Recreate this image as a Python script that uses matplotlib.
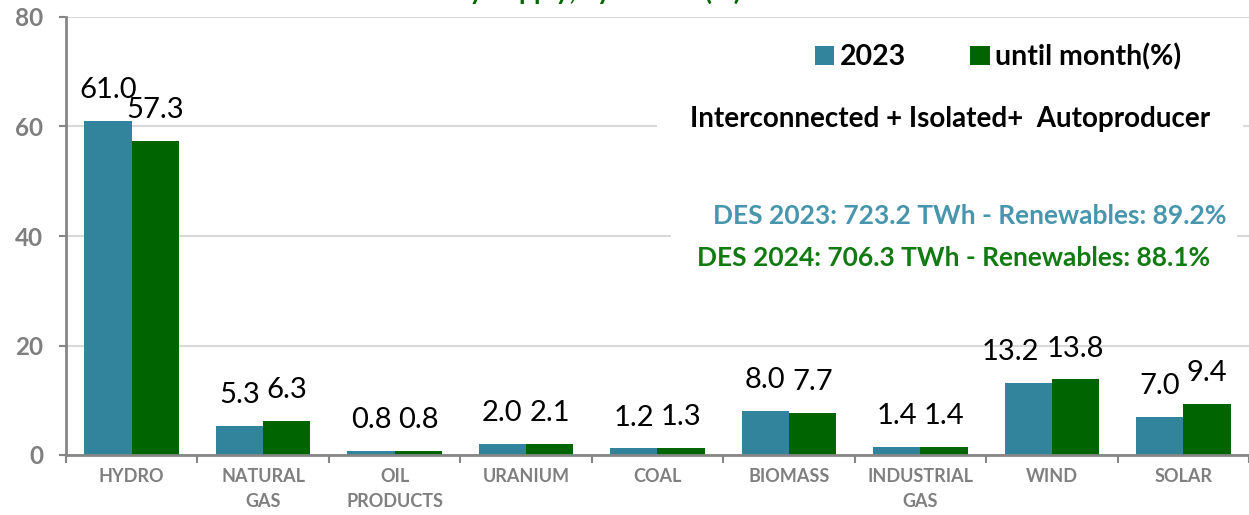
"""
DOMESTIC ELECTRICITY SUPPLY BY SOURCE (%)
2023 vs year-to-date
"""
import matplotlib
matplotlib.use("Agg")
import matplotlib.pyplot as plt
import numpy as np

plt.rcParams['font.family'] = ['Lato', 'DejaVu Sans']

# Data
sources = ['HYDRO', 'NATURAL\nGAS', 'OIL\nPRODUCTS', 'URANIUM', 'COAL',
           'BIOMASS', 'INDUSTRIAL\nGAS', 'WIND', 'SOLAR']
share_2023 = [61.0, 5.3, 0.8, 2.0, 1.2, 8.0, 1.4, 13.2, 7.0]
share_ytd = [57.3, 6.3, 0.8, 2.1, 1.3, 7.7, 1.4, 13.8, 9.4]
series_names = ['2023', 'until month(%)']
y_ticks = [0, 20, 40, 60, 80]

title = 'Domestic Electricity Supply, by Source (%)'
subtitle = 'Interconnected + Isolated+  Autoproducer'
des_2023 = 'DES 2023: 723.2 TWh - Renewables: 89.2%'
des_2024 = 'DES 2024: 706.3 TWh - Renewables: 88.1%'

BLUE = '#31849B'
GREEN = '#006400'
AXIS_GRAY = '#868686'
TEXT_GRAY = '#7F7F7F'


def main():
    fig = plt.figure(figsize=(12.49, 5.15), dpi=100)
    ax = fig.add_axes([66 / 1249, 1 - 455 / 515, 1 - 66 / 1249, (455 - 17) / 515])
    ax.patch.set_alpha(0)

    x = np.arange(len(sources))
    width = 0.36
    bars_a = ax.bar(x - width / 2, share_2023, width, color=BLUE, label=series_names[0], zorder=2)
    bars_b = ax.bar(x + width / 2, share_ytd, width, color=GREEN, label=series_names[1], zorder=2)

    # data labels (WIND 2023 label nudged left so it doesn't collide, as in the original)
    nudge = {(0, 7): -13}
    for s, (bars, vals) in enumerate([(bars_a, share_2023), (bars_b, share_ytd)]):
        for i, (b, v) in enumerate(zip(bars, vals)):
            ax.annotate(f"{v:.1f}", (b.get_x() + b.get_width() / 2, v),
                        xytext=(nudge.get((s, i), 0), 16.5), textcoords='offset points',
                        ha='center', va='baseline', fontsize=21, color='black', zorder=4)

    ax.set_xlim(-0.5, len(sources) - 0.5)
    ax.set_ylim(0, 80)
    ax.set_yticks(y_ticks)
    ax.tick_params(axis='y', length=5, width=1.5, color=AXIS_GRAY, pad=11.5,
                   labelsize=17.5, labelcolor=TEXT_GRAY)
    for lbl in ax.get_yticklabels():
        lbl.set_fontweight('bold')

    # category boundaries as major ticks, names on minor ticks
    ax.set_xticks(np.arange(-0.5, len(sources), 1.0))
    ax.set_xticklabels([])
    ax.set_xticks(x, minor=True)
    ax.set_xticklabels(sources, minor=True, fontsize=13, fontweight='bold',
                       color=TEXT_GRAY, linespacing=1.6)
    ax.tick_params(axis='x', which='major', length=6, width=1.5, color=AXIS_GRAY, direction='out')
    ax.tick_params(axis='x', which='minor', length=0, pad=9)

    ax.grid(axis='y', color='#D9D9D9', linewidth=1.5, zorder=0)
    ax.set_axisbelow(True)
    for side in ['top', 'right']:
        ax.spines[side].set_visible(False)
    for side in ['left', 'bottom']:
        ax.spines[side].set_color(AXIS_GRAY)
        ax.spines[side].set_linewidth(2)
        ax.spines[side].set_zorder(3)

    ax.legend(loc='center', bbox_to_anchor=(0.788, 0.909), ncol=2, frameon=False,
              handlelength=0.68, handleheight=0.68, handletextpad=0.2,
              columnspacing=2.25, borderpad=0, prop={'size': 20.5, 'weight': 'bold'})

    # title, mostly cut off by the top edge
    fig.text(741 / 1249, 1.0, title, ha='right', va='baseline',
             fontsize=19, fontweight='bold', color='#006600')

    fig.text(690 / 1249, 1 - 119 / 515, subtitle, ha='left', va='center',
             fontsize=20, fontweight='bold', color='black', zorder=5,
             bbox=dict(boxstyle='square,pad=1.2', fc='white', ec='none'))
    fig.text(697 / 1249, 1 - 258 / 515, des_2024, ha='left', va='center',
             fontsize=19, fontweight='bold', color='#117A11', zorder=5,
             bbox=dict(boxstyle='square,pad=1.0', fc='white', ec='none'))
    fig.text(713 / 1249, 1 - 216 / 515, des_2023, ha='left', va='center',
             fontsize=19, fontweight='bold', color='#4796AD', zorder=6)

    fig.savefig('out.png', dpi=100)
    plt.close(fig)


if __name__ == "__main__":
    main()
